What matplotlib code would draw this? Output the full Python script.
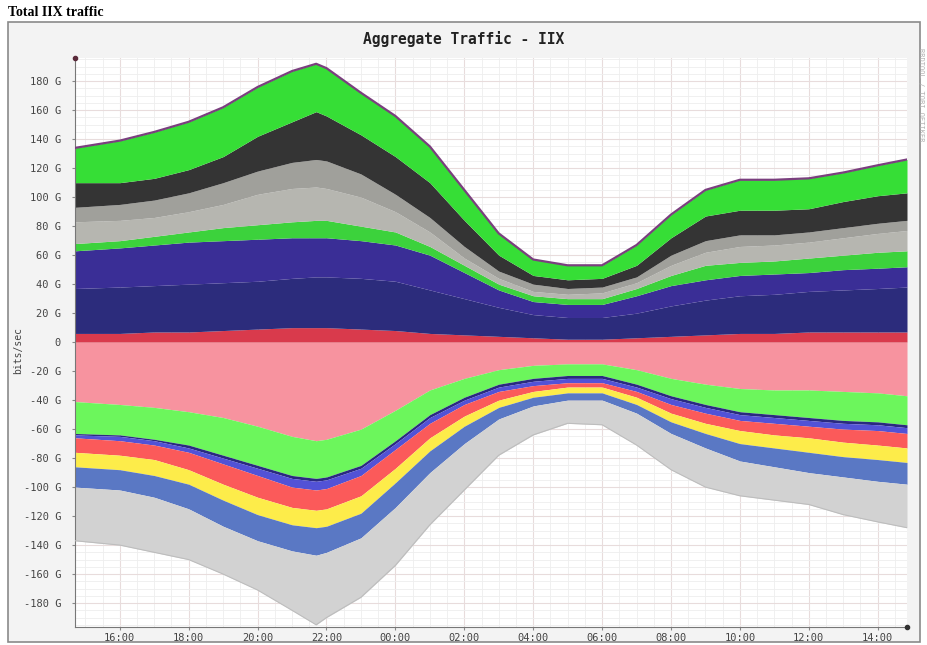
import matplotlib.pyplot as plt
import matplotlib.patches as patches
from matplotlib.ticker import FixedLocator, MultipleLocator

# sample times in hours (24+ = next day)
hours = [14.7, 16, 17, 18, 19, 20, 21, 21.7, 22, 23, 24, 25, 26, 27, 28, 29,
         30, 31, 32, 33, 34, 35, 36, 37, 38, 38.85]

# outbound (positive) stack, top of each series in Gbit/s
pos_red = [6, 6, 7, 7, 8, 9, 10, 10, 10, 9, 8, 6, 5, 4, 3, 2, 2, 3, 4, 5, 6, 6, 7, 7, 7, 7]
pos_navy = [37, 38, 39, 40, 41, 42, 44, 45, 45, 44, 42, 36, 30, 24, 19, 17, 17, 20, 25, 29, 32, 33, 35, 36, 37, 38]
pos_indigo = [63, 65, 67, 69, 70, 71, 72, 72, 72, 70, 67, 60, 48, 36, 28, 26, 26, 32, 39, 43, 46, 47, 48, 50, 51, 52]
pos_green = [68, 70, 73, 76, 79, 81, 83, 84, 84, 80, 76, 66, 53, 40, 32, 30, 30, 37, 46, 53, 55, 56, 58, 60, 62, 63]
pos_light = [83, 84, 86, 90, 95, 102, 106, 107, 106, 100, 90, 76, 58, 44, 35, 33, 34, 41, 53, 62, 66, 67, 69, 72, 75, 77]
pos_mid = [93, 95, 98, 103, 110, 118, 124, 126, 125, 116, 102, 86, 66, 49, 40, 37, 38, 45, 60, 70, 74, 74, 76, 79, 82, 84]
pos_dark = [110, 110, 113, 119, 128, 142, 152, 159, 156, 143, 128, 110, 84, 60, 46, 43, 44, 53, 72, 87, 91, 91, 92, 97, 101, 103]
pos_top = [134, 139, 145, 152, 162, 176, 187, 192, 189, 172, 156, 135, 105, 75, 57, 53, 53, 67, 88, 105, 112, 112, 113, 117, 122, 126]

# inbound (negative) stack, depth of each series in Gbit/s
neg_pink = [41, 43, 45, 48, 52, 58, 65, 68, 67, 60, 47, 33, 25, 19, 16, 15, 15, 19, 25, 29, 32, 33, 33, 34, 35, 37]
neg_green = [63, 64, 67, 71, 78, 85, 92, 94, 93, 85, 68, 50, 38, 29, 25, 23, 23, 29, 37, 43, 48, 50, 52, 54, 55, 57]
neg_navy = [64, 65, 68, 73, 80, 87, 94, 96, 95, 87, 70, 52, 40, 31, 27, 25, 25, 31, 39, 45, 50, 52, 54, 56, 57, 59]
neg_violet = [66, 68, 71, 76, 84, 92, 100, 102, 101, 92, 74, 56, 43, 34, 30, 28, 28, 34, 43, 49, 54, 56, 58, 60, 61, 63]
neg_red = [76, 78, 81, 88, 98, 107, 114, 116, 115, 106, 87, 66, 51, 40, 34, 31, 31, 38, 49, 56, 61, 64, 66, 69, 71, 73]
neg_yellow = [86, 88, 92, 98, 109, 119, 126, 128, 127, 118, 97, 75, 58, 45, 38, 35, 35, 43, 55, 63, 70, 73, 76, 79, 81, 83]
neg_blue = [100, 102, 107, 115, 127, 137, 144, 147, 145, 135, 114, 90, 70, 53, 44, 40, 40, 49, 63, 73, 82, 86, 90, 93, 96, 98]
neg_gray = [137, 140, 145, 150, 160, 171, 185, 195, 190, 176, 154, 126, 102, 78, 64, 56, 57, 71, 88, 100, 106, 109, 112, 119, 124, 128]

y_ticks = [-180, -160, -140, -120, -100, -80, -60, -40, -20, 0,
           20, 40, 60, 80, 100, 120, 140, 160, 180]
x_ticks = [16, 18, 20, 22, 24, 26, 28, 30, 32, 34, 36, 38]
x_labels = ["16:00", "18:00", "20:00", "22:00", "00:00", "02:00",
            "04:00", "06:00", "08:00", "10:00", "12:00", "14:00"]

fig = plt.figure(figsize=(9.27, 6.45), dpi=100)
fig.patch.set_facecolor("white")

# grey rrdtool canvas behind the graph
canvas = patches.Rectangle((8 / 927, 3 / 645), 912 / 927, 620 / 645,
                           transform=fig.transFigure, facecolor="#f3f3f3",
                           edgecolor="#8a8a8a", linewidth=1.2, zorder=-10)
fig.patches.append(canvas)

fig.text(8 / 927, 1 - 12 / 645, "Total IIX traffic", family="Liberation Serif",
         fontweight="bold", fontsize=10, va="center", ha="left")
fig.text(0.5, 1 - 39 / 645, "Aggregate Traffic - IIX", family="DejaVu Sans Mono",
         fontweight="bold", fontsize=10.5, color="#222222", ha="center", va="center")
fig.text(921 / 927, 1 - 95 / 645, "RRDTOOL / TOBI OETIKER", family="DejaVu Sans Mono",
         fontsize=5, color="#b0b0b0", rotation=270, ha="center", va="center")

ax = fig.add_axes([75 / 927, 1 - 627 / 645, 832 / 927, 569 / 645])
ax.set_facecolor("white")

pos_layers = [
    ([0] * len(hours), pos_red, "#d93a4c"),
    (pos_red, pos_navy, "#2c2c7c"),
    (pos_navy, pos_indigo, "#3a2e96"),
    (pos_indigo, pos_green, "#3cd23c"),
    (pos_green, pos_light, "#b6b6b0"),
    (pos_light, pos_mid, "#a0a09b"),
    (pos_mid, pos_dark, "#343434"),
    (pos_dark, pos_top, "#36de36"),
]
for lo, hi, col in pos_layers:
    ax.fill_between(hours, lo, hi, color=col, linewidth=0, zorder=2)
ax.plot(hours, pos_top, color="#7a3f7e", linewidth=1.6, zorder=3)

neg_layers = [
    ([0] * len(hours), neg_pink, "#f7939f"),
    (neg_pink, neg_green, "#6cf65c"),
    (neg_green, neg_navy, "#2a2a80"),
    (neg_navy, neg_violet, "#5252d6"),
    (neg_violet, neg_red, "#fb5a5a"),
    (neg_red, neg_yellow, "#fdec4a"),
    (neg_yellow, neg_blue, "#5a78c4"),
    (neg_blue, neg_gray, "#d2d2d2"),
]
for lo, hi, col in neg_layers:
    ax.fill_between(hours, [-v for v in lo], [-v for v in hi], color=col,
                    linewidth=0, zorder=2)
ax.plot(hours, [-v for v in neg_gray], color="#bdbdbd", linewidth=0.8, zorder=3)

ax.set_xlim(14.7, 38.85)
ax.set_ylim(-196.5, 196)

ax.yaxis.set_major_locator(FixedLocator(y_ticks))
ax.set_yticklabels(["0" if v == 0 else f"{v} G" for v in y_ticks])
ax.yaxis.set_minor_locator(MultipleLocator(5))
ax.xaxis.set_major_locator(FixedLocator(x_ticks))
ax.set_xticklabels(x_labels)
ax.xaxis.set_minor_locator(MultipleLocator(0.5))

ax.grid(which="minor", color="#eeeeee", linewidth=0.6, zorder=0)
ax.grid(which="major", color="#e8dcdc", linewidth=0.8, zorder=0)
ax.set_axisbelow(True)

for lab in ax.get_xticklabels() + ax.get_yticklabels():
    lab.set_family("DejaVu Sans Mono")
    lab.set_fontsize(7.5)
    lab.set_color("#444444")
ax.tick_params(which="major", length=2, color="#888888")
ax.tick_params(which="minor", length=0)
ax.tick_params(axis="y", pad=8)
ax.tick_params(axis="x", pad=2)

ax.spines["top"].set_visible(False)
ax.spines["right"].set_visible(False)
ax.spines["left"].set_color("#777777")
ax.spines["bottom"].set_color("#777777")
ax.plot([14.7], [196], marker="o", markersize=3, color="#5a2a3a", clip_on=False, zorder=5)
ax.plot([38.85], [-196.5], marker="o", markersize=3, color="#333333", clip_on=False, zorder=5)

fig.text(18 / 927, 1 - 350 / 645, "bits/sec", family="DejaVu Sans Mono", fontsize=7,
         color="#444444", rotation=90, ha="center", va="center")

plt.savefig("out.png", dpi=100)
